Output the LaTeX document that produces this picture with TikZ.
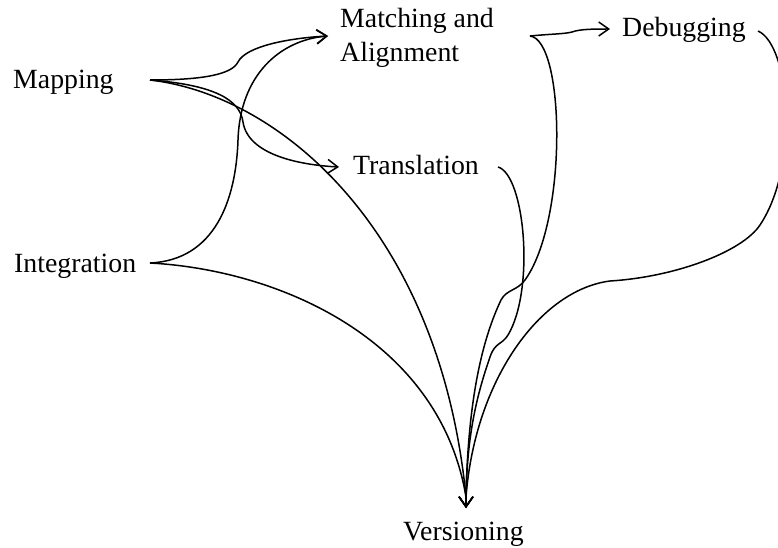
\documentclass[tikz,border=0pt]{standalone}
\usepackage{fontspec}
\setmainfont{Liberation Serif}
\usetikzlibrary{arrows.meta}
\begin{document}
\begin{tikzpicture}[x=1pt,y=-1pt,
  lbl/.style={font=\fontsize{27.8}{34}\selectfont, inner sep=0pt, anchor=base west, align=left},
  conn/.style={line width=1.5pt, -{Straight Barb[length=10pt,width=14pt]}}]
\useasboundingbox (0,0) rectangle (778,548);
\clip (0,0) rectangle (778,548);
% labels
\node[lbl] (map) at (13,89) {Mapping};
\node[lbl] (int) at (14,272) {Integration};
\node[lbl] (mat) at (340,62) {Matching and\\Alignment};
\node[lbl] (tra) at (353,175) {Translation};
\node[lbl] (deb) at (622,37) {Debugging};
\node[lbl] (ver) at (403,540) {Versioning};
% ports
\coordinate (mapO) at (150,80);
\coordinate (intO) at (150,263);
\coordinate (matI) at (328,36);
\coordinate (matO) at (530,36);
\coordinate (traI) at (339,167);
\coordinate (traO) at (498,167);
\coordinate (debI) at (610,29);
\coordinate (debO) at (758,31);
\coordinate (verA) at (466,497);
\coordinate (verI) at (466,508);
% connectors
\draw[conn] (mapO) .. controls (205,80) and (232,74) .. (238,62) .. controls (246,46) and (290,38) .. (matI);
\draw[conn] (mapO) .. controls (215,85) and (240,100) .. (243,122) .. controls (248,155) and (300,165) .. (traI);
\draw[conn] (mapO) .. controls (280,95) and (440,230) .. (verA) -- (verI);
\draw[conn] (intO) .. controls (215,260) and (236,200) .. (238,140) .. controls (240,75) and (280,40) .. (matI);
\draw[conn] (intO) .. controls (280,270) and (440,340) .. (verA) -- (verI);
\draw[conn] (matO) .. controls (550,34) and (565,34) .. (572,32) .. controls (580,29) and (595,29) .. (debI);
\draw[conn] (matO) .. controls (565,40) and (568,220) .. (525,280) .. controls (517,291) and (507,289) .. (501,300) .. controls (482,340) and (468,400) .. (verA) -- (verI);
\draw[conn] (traO) .. controls (525,175) and (535,290) .. (508,335) .. controls (502,345) and (495,342) .. (490,357) .. controls (475,400) and (467,440) .. (verA) -- (verI);
\draw[conn] (debO) .. controls (790,45) and (800,165) .. (760,225) .. controls (742,252) and (675,277) .. (610,281) .. controls (540,290) and (475,380) .. (verA) -- (verI);
\end{tikzpicture}
\end{document}
